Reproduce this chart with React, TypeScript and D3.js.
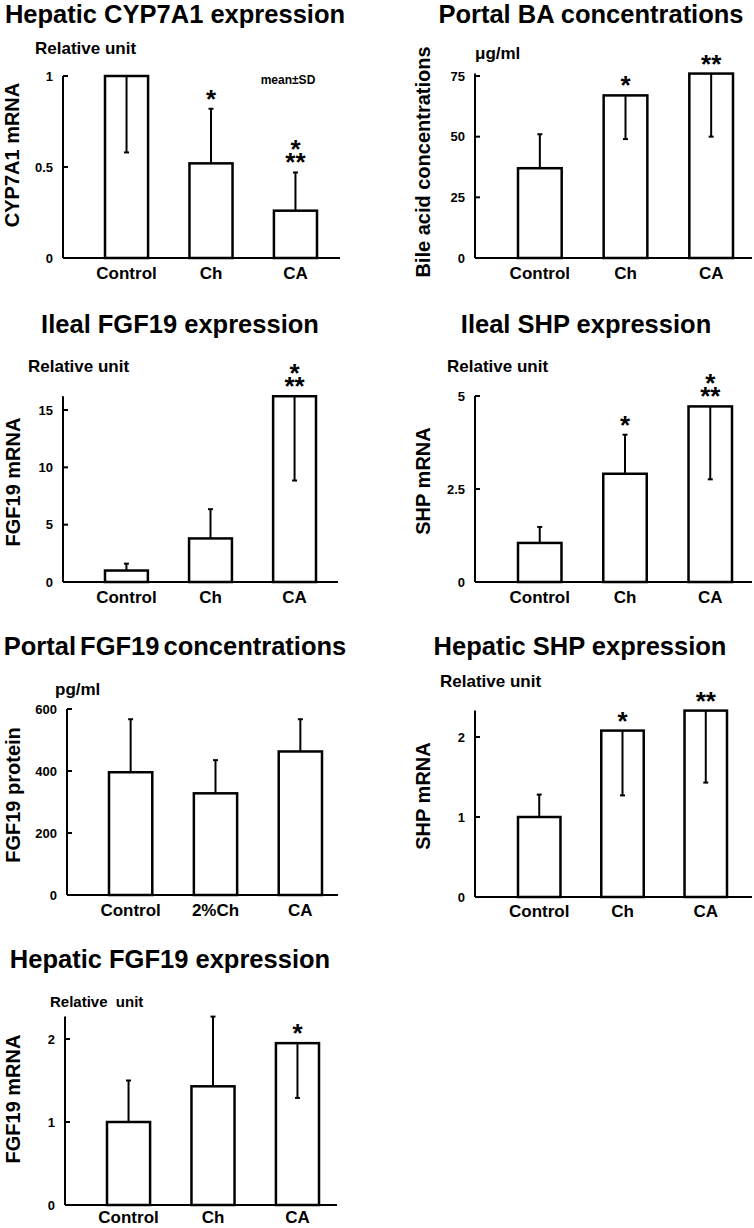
import React from "react";
import * as d3 from "d3";

// ---------- data ----------
const groups = ["Control", "Ch", "CA"];
const groupsPortalFGF19 = ["Control", "2%Ch", "CA"];

const cyp7a1Mean = [1.0, 0.52, 0.26];
const cyp7a1SD = [0.42, 0.3, 0.21];
const cyp7a1Dir = ["down", "up", "up"];
const cyp7a1Sig = [[], ["*"], ["*", "**"]];
const cyp7a1Ticks = [0, 0.5, 1];

const portalBAMean = [37, 67, 76];
const portalBASD = [14, 18, 26];
const portalBADir = ["up", "down", "down"];
const portalBASig = [[], ["*"], ["**"]];
const portalBATicks = [0, 25, 50, 75];

const ilealFGF19Mean = [1.0, 3.8, 16.2];
const ilealFGF19SD = [0.6, 2.55, 7.35];
const ilealFGF19Dir = ["up", "up", "down"];
const ilealFGF19Sig = [[], [], ["*", "**"]];
const ilealFGF19Ticks = [0, 5, 10, 15];

const ilealSHPMean = [1.05, 2.91, 4.72];
const ilealSHPSD = [0.43, 1.05, 1.96];
const ilealSHPDir = ["up", "up", "down"];
const ilealSHPSig = [[], ["*"], ["*", "**"]];
const ilealSHPTicks = [0, 2.5, 5];

const portalFGF19Mean = [396, 328, 463];
const portalFGF19SD = [171, 107, 104];
const portalFGF19Dir = ["up", "up", "up"];
const portalFGF19Sig = [[], [], []];
const portalFGF19Ticks = [0, 200, 400, 600];

const hepaticSHPMean = [1.0, 2.08, 2.33];
const hepaticSHPSD = [0.28, 0.81, 0.9];
const hepaticSHPDir = ["up", "down", "down"];
const hepaticSHPSig = [[], ["*"], ["**"]];
const hepaticSHPTicks = [0, 1, 2];

const hepaticFGF19Mean = [1.0, 1.43, 1.95];
const hepaticFGF19SD = [0.5, 0.84, 0.66];
const hepaticFGF19Dir = ["up", "up", "down"];
const hepaticFGF19Sig = [[], [], ["*"]];
const hepaticFGF19Ticks = [0, 1, 2];

// ---------- layout ----------
const FONT = "'Liberation Sans', Arial, Helvetica, sans-serif";

const panels = [
  {
    title: "Hepatic CYP7A1 expression", titleX: 175, titleY: 23,
    unit: "Relative unit", unitX: 35, unitY: 54, unitSize: 17,
    ylab: "CYP7A1 mRNA", ylabX: 19, ylabY: 155,
    cats: groups, mean: cyp7a1Mean, sd: cyp7a1SD, dir: cyp7a1Dir, sig: cyp7a1Sig, ticks: cyp7a1Ticks,
    axisX: 63, axisEnd: 340, y0: 258, yRef: 76, barsL: 105, barsR: 317, note: "mean±SD", labelDy: 21,
  },
  {
    title: "Portal BA concentrations", titleX: 591, titleY: 23,
    unit: "μg/ml", unitX: 475, unitY: 59, unitSize: 17,
    ylab: "Bile acid concentrations", ylabX: 430, ylabY: 162,
    cats: groups, mean: portalBAMean, sd: portalBASD, dir: portalBADir, sig: portalBASig, ticks: portalBATicks,
    axisX: 475, axisEnd: 752, y0: 258, yRef: 76, barsL: 518, barsR: 733, labelDy: 21,
  },
  {
    title: "Ileal FGF19 expression", titleX: 180, titleY: 333,
    unit: "Relative unit", unitX: 28, unitY: 372, unitSize: 17,
    ylab: "FGF19 mRNA", ylabX: 20, ylabY: 482,
    cats: groups, mean: ilealFGF19Mean, sd: ilealFGF19SD, dir: ilealFGF19Dir, sig: ilealFGF19Sig, ticks: ilealFGF19Ticks,
    axisX: 63, axisEnd: 338, y0: 582, yRef: 410, barsL: 105, barsR: 316, labelDy: 21,
  },
  {
    title: "Ileal SHP expression", titleX: 586, titleY: 333,
    unit: "Relative unit", unitX: 447, unitY: 372, unitSize: 17,
    ylab: "SHP mRNA", ylabX: 430, ylabY: 481,
    cats: groups, mean: ilealSHPMean, sd: ilealSHPSD, dir: ilealSHPDir, sig: ilealSHPSig, ticks: ilealSHPTicks,
    axisX: 475, axisEnd: 752, y0: 582, yRef: 396, barsL: 518, barsR: 732, labelDy: 21,
  },
  {
    title: "Portal FGF19 concentrations", titleX: 175, titleY: 655,
    unit: "pg/ml", unitX: 55, unitY: 695, unitSize: 17,
    ylab: "FGF19 protein", ylabX: 20, ylabY: 795,
    cats: groupsPortalFGF19, mean: portalFGF19Mean, sd: portalFGF19SD, dir: portalFGF19Dir, sig: portalFGF19Sig, ticks: portalFGF19Ticks,
    axisX: 67, axisEnd: 338, y0: 895, yRef: 709, barsL: 109, barsR: 322, wordSpacing: -3, labelDy: 21,
  },
  {
    title: "Hepatic SHP expression", titleX: 580, titleY: 655,
    unit: "Relative unit", unitX: 440, unitY: 687, unitSize: 17,
    ylab: "SHP mRNA", ylabX: 430, ylabY: 796,
    cats: groups, mean: hepaticSHPMean, sd: hepaticSHPSD, dir: hepaticSHPDir, sig: hepaticSHPSig, ticks: hepaticSHPTicks,
    axisX: 475, axisEnd: 752, y0: 897, yRef: 737, barsL: 518, barsR: 727, labelDy: 20,
  },
  {
    title: "Hepatic FGF19 expression", titleX: 170, titleY: 968,
    unit: "Relative  unit", unitX: 50, unitY: 1007, unitSize: 15,
    ylab: "FGF19 mRNA", ylabX: 20, ylabY: 1099,
    cats: groups, mean: hepaticFGF19Mean, sd: hepaticFGF19SD, dir: hepaticFGF19Dir, sig: hepaticFGF19Sig, ticks: hepaticFGF19Ticks,
    axisX: 65, axisEnd: 337, y0: 1205, yRef: 1039, barsL: 107, barsR: 319, labelDy: 18,
  },
];

function Panel({ p }: { p: any }) {
  const maxTick = p.ticks[p.ticks.length - 1];
  const y = d3.scaleLinear().domain([0, maxTick]).range([p.y0, p.yRef]);
  const x = d3.scaleBand().domain(p.cats).range([p.barsL, p.barsR]).paddingInner(0.49).paddingOuter(0);
  const bw = x.bandwidth();
  const tops = p.mean.map((m: number, i: number) => (p.dir[i] === "up" ? m + p.sd[i] : m));
  const axisTopVal = Math.max(maxTick, d3.max(tops) as number);
  const fmt = (v: number) => String(v);
  return (
    <g fontFamily={FONT} fontWeight="bold" fill="#000">
      <text x={p.titleX} y={p.titleY} fontSize={25.5} textAnchor="middle" wordSpacing={p.wordSpacing || 0}>
        {p.title}
      </text>
      <text x={p.unitX} y={p.unitY} fontSize={p.unitSize} style={{ whiteSpace: "pre" }}>
        {p.unit}
      </text>
      <text
        transform={`translate(${p.ylabX},${p.ylabY}) rotate(-90)`}
        fontSize={20}
        textAnchor="middle"
      >
        {p.ylab}
      </text>
      {p.note && (
        <text x={288} y={84} fontSize={12} textAnchor="middle">
          {p.note}
        </text>
      )}
      {/* bars */}
      {p.cats.map((c: string, i: number) => (
        <rect
          key={"b" + c}
          x={x(c)}
          y={y(p.mean[i])}
          width={bw}
          height={y(0) - y(p.mean[i])}
          fill="#fff"
          stroke="#000"
          strokeWidth={2.5}
        />
      ))}
      {/* error bars */}
      {p.cats.map((c: string, i: number) => {
        const cx = (x(c) as number) + bw / 2;
        const end = p.dir[i] === "up" ? p.mean[i] + p.sd[i] : p.mean[i] - p.sd[i];
        return (
          <g key={"e" + c} stroke="#000" strokeWidth={2}>
            <line x1={cx} x2={cx} y1={y(p.mean[i])} y2={y(end)} />
            <line x1={cx - 2.5} x2={cx + 2.5} y1={y(end)} y2={y(end)} />
          </g>
        );
      })}
      {/* significance marks (stacked lines in one text) */}
      {p.cats.map((c: string, i: number) => {
        const lines: string[] = p.sig[i];
        if (!lines.length) return null;
        const cx = (x(c) as number) + bw / 2;
        const topPx = y(tops[i]);
        const firstCenter = topPx - 16 - (lines.length - 1) * 13.5;
        return (
          <text key={"s" + c} x={cx} y={firstCenter + 15} fontSize={26} textAnchor="middle">
            {lines.map((s: string, k: number) => (
              <tspan key={k} x={cx} dy={k === 0 ? 0 : 13.5}>
                {s}
              </tspan>
            ))}
          </text>
        );
      })}
      {/* axes */}
      <line x1={p.axisX} x2={p.axisX} y1={y(0)} y2={y(axisTopVal)} stroke="#000" strokeWidth={2} />
      <line x1={p.axisX} x2={p.axisEnd} y1={y(0)} y2={y(0)} stroke="#000" strokeWidth={2} />
      {p.ticks.map((t: number) => (
        <g key={"t" + t}>
          <line x1={p.axisX} x2={p.axisX + 5} y1={y(t)} y2={y(t)} stroke="#000" strokeWidth={2} />
          <text x={p.axisX - 10} y={y(t) + 4.5} fontSize={13} textAnchor="end">
            {fmt(t)}
          </text>
        </g>
      ))}
      {p.cats.map((c: string) => (
        <text key={"l" + c} x={(x(c) as number) + bw / 2} y={p.y0 + p.labelDy} fontSize={17} textAnchor="middle">
          {c}
        </text>
      ))}
    </g>
  );
}

export default function App() {
  return (
    <svg
      width={754}
      height={1228}
      viewBox="0 0 754 1228"
      style={{ position: "absolute", left: 0, top: 0, background: "#fff" }}
    >
      <rect x={0} y={0} width={754} height={1228} fill="#fff" />
      {panels.map((p, i) => (
        <Panel key={i} p={p} />
      ))}
    </svg>
  );
}
